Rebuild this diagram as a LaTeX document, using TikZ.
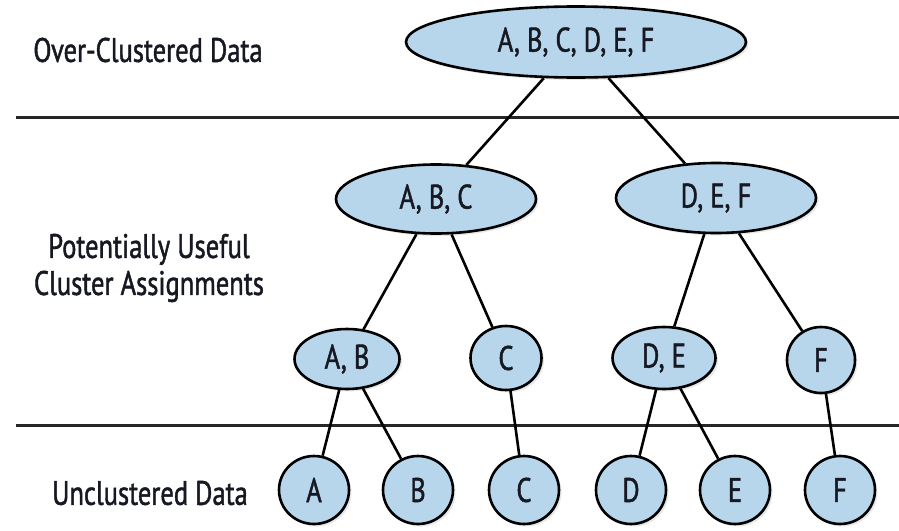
\documentclass[tikz,border=0pt]{standalone}
\usepackage{fontspec}
\setmainfont{PT Sans}[FakeStretch=0.78,FakeBold=1.3]
\usetikzlibrary{shapes.geometric,shadows}
\definecolor{nodefill}{RGB}{183,213,235}
\definecolor{ink}{RGB}{22,24,34}
\begin{document}
\begin{tikzpicture}[x=1pt,y=-1pt,
  clus/.style={ellipse, draw=black, line width=2.6pt, fill=nodefill, inner sep=0pt,
    text=ink, font=\fontsize{34}{38}\selectfont,
    drop shadow={opacity=0.18, shadow xshift=2.5pt, shadow yshift=-2.5pt}},
  link/.style={line width=2.6pt, black},
  divider/.style={line width=3pt, black!85},
  lab/.style={font=\fontsize{34}{37}\selectfont, text=ink, align=center}]
\useasboundingbox (0,0) rectangle (899,530);
\fill[white] (0,0) rectangle (899,530);

% dividers
\draw[divider] (16,117) -- (899,117);
\draw[divider] (16,425) -- (899,425);

% row labels
\node[lab] (l1) at (148,50) {Over-Clustered Data};
\node[lab] (l2) at (149,268) {Potentially Useful\\Cluster Assignments};
\node[lab] (l3) at (150,493) {Unclustered Data};

% nodes
\node[clus, minimum width=340pt, minimum height=71pt] (all) at (576,42) {A, B, C, D, E, F};
\node[clus, minimum width=200pt, minimum height=69pt] (abc) at (436,199) {A, B, C};
\node[clus, minimum width=200pt, minimum height=70pt] (def) at (716,198) {D, E, F};
\node[clus, minimum width=105pt, minimum height=60pt] (ab) at (347,359) {A, B};
\node[clus, minimum width=71pt, minimum height=64pt] (c1) at (506,358) {C};
\node[clus, minimum width=103pt, minimum height=62pt] (de) at (664,358) {D, E};
\node[clus, minimum width=68pt, minimum height=66pt] (f1) at (821,360) {F};
\node[clus, minimum width=70pt, minimum height=68pt] (a) at (314,490) {A};
\node[clus, minimum width=70pt, minimum height=68pt] (b) at (418,490) {B};
\node[clus, minimum width=70pt, minimum height=68pt] (c) at (524,490) {C};
\node[clus, minimum width=70pt, minimum height=68pt] (d) at (631,490) {D};
\node[clus, minimum width=70pt, minimum height=68pt] (e) at (735,490) {E};
\node[clus, minimum width=70pt, minimum height=68pt] (f) at (840,490) {F};

% connectors
\draw[link] (all) -- (abc);
\draw[link] (all) -- (def);
\draw[link] (abc) -- (ab);
\draw[link] (abc) -- (c1);
\draw[link] (def) -- (de);
\draw[link] (def) -- (f1);
\draw[link] (ab) -- (a);
\draw[link] (ab) -- (b);
\draw[link] (c1) -- (c);
\draw[link] (de) -- (d);
\draw[link] (de) -- (e);
\draw[link] (f1) -- (f);
\end{tikzpicture}
\end{document}
